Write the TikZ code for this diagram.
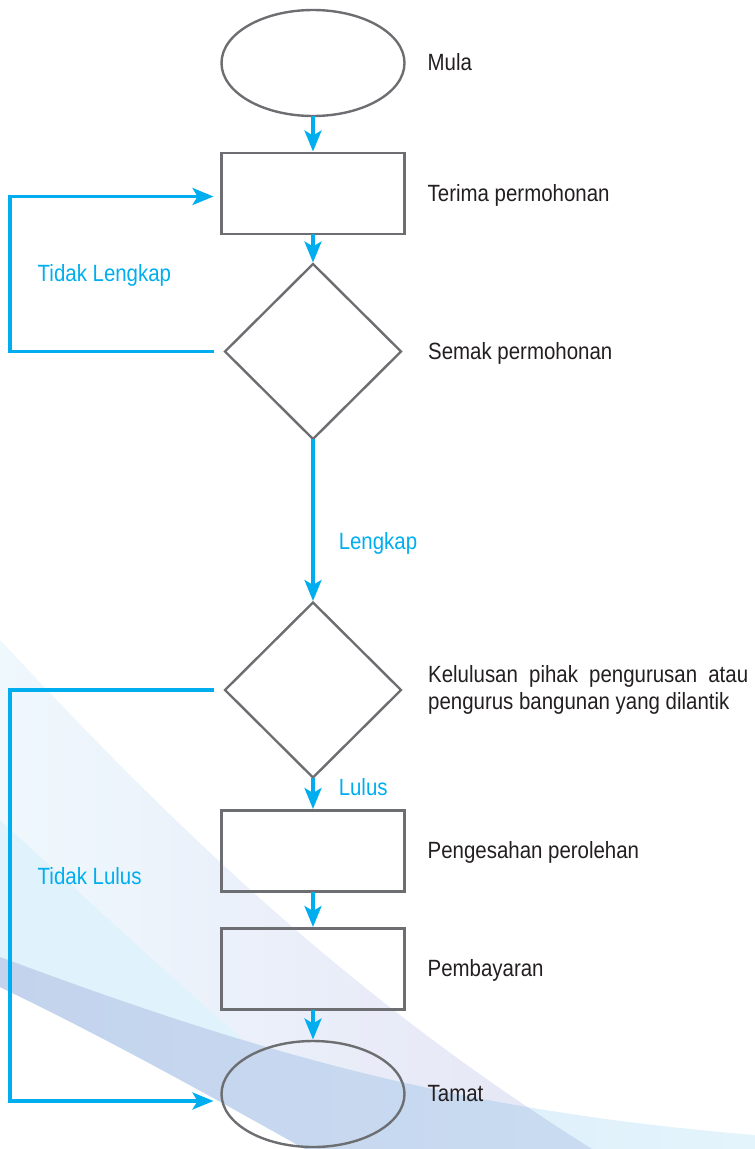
\documentclass[tikz,border=0pt]{standalone}
\usepackage{fontspec}
\setmainfont{Liberation Sans}[FakeStretch=0.87]
\usepackage{xcolor}
\definecolor{flowCyan}{RGB}{0,174,239}
\definecolor{flowGrey}{RGB}{109,110,113}
\definecolor{flowInk}{RGB}{35,31,32}
\definecolor{swPale}{RGB}{239,248,253}
\definecolor{swLav}{RGB}{229,229,245}
\definecolor{swCyan}{RGB}{224,242,251}
\definecolor{swSky}{RGB}{212,232,249}
\definecolor{swSkyEnd}{RGB}{228,244,252}
\definecolor{swBlue}{RGB}{195,211,237}
\definecolor{swBlueEnd}{RGB}{203,222,242}
\usetikzlibrary{positioning,arrows.meta,shapes.geometric}

\newcommand\lblfont{\fontsize{23.5pt}{26.7pt}\selectfont}
% swoosh outlines, pixel grid with y pointing down
\def\swoopR{(0,640) .. controls (150,800) and (330,985) .. (592,1149) -- (305,1149) .. controls (200,1090) and (100,1035) .. (0,987) -- cycle}
\def\swoopB{(0,820) .. controls (120,930) and (250,1050) .. (371,1149) -- (0,1149) -- cycle}
\def\swoopD{(0,957) .. controls (250,1050) and (450,1110) .. (755,1135) -- (755,1149) -- (305,1149) .. controls (200,1090) and (100,1035) .. (0,987) -- cycle}

\begin{document}
\begin{tikzpicture}[x=1pt,y=-1pt,node distance=31pt and 23pt,
  blk/.style={draw=flowGrey,line width=2.4pt,inner sep=0pt,outer sep=0pt,
    minimum width=183pt,minimum height=81pt},
  oval/.style={blk,ellipse,minimum height=106pt},
  dec/.style={blk,diamond,minimum width=176pt,minimum height=175pt},
  lb/.style={font=\lblfont,text=flowInk,anchor=west,inner sep=0pt},
  lbl/.style={lb,text height=20pt,text depth=4.2pt},
  cl/.style={lbl,text=flowCyan},
  a/.style={-{Stealth[length=21pt,width=17pt,inset=5pt]},flowCyan,line width=3.5pt,shorten >=1.5pt},
  back/.style={a,shorten <=11pt,shorten >=8pt}]
  \useasboundingbox (0,0) rectangle (755,1149);

  % background swoosh
  \shade[left color=swPale,right color=swLav] \swoopR;
  \shade[left color=swSky,right color=swSkyEnd] \swoopD;
  \begin{scope}
    \clip \swoopR;
    \fill[swCyan] \swoopB;
    \shade[left color=swBlue,right color=swBlueEnd] \swoopD;
  \end{scope}

  % flow
  \node[oval] (mula) at (313,63) {};
  \node[blk,below=37pt of mula] (terima) {};
  \node[dec,below=30pt of terima] (semak) {};
  \node[dec,below=163.5pt of semak] (kelulusan) {};
  \node[blk,below=33pt of kelulusan] (pengesahan) {};
  \node[blk,below=37pt of pengesahan] (bayaran) {};
  \node[oval,below=31.5pt of bayaran] (tamat) {};

  \node[lbl,right=of mula] (tMula) {Mula};
  \node[lbl,right=of terima] (tTerima) {Terima permohonan};
  \node[lbl,right=27pt of semak] (tSemak) {Semak permohonan};
  \node[lb,right=27pt of kelulusan,align=left] (tKelulusan)
    {\makebox[320pt][s]{Kelulusan pihak pengurusan atau}\\pengurus bangunan yang dilantik};
  \node[lbl,right=of pengesahan] (tPengesahan) {Pengesahan perolehan};
  \node[lbl,right=of bayaran] (tBayaran) {Pembayaran};
  \node[lbl,right=of tamat] (tTamat) {Tamat};

  \draw[a] (mula) -- (terima);
  \draw[a] (terima) -- (semak);
  \draw[a] (semak) -- node[cl,pos=.63,xshift=24pt] (tLengkap) {Lengkap} (kelulusan);
  \draw[a] (kelulusan) -- node[cl,pos=.32,xshift=24pt] (tLulus) {Lulus} (pengesahan);
  \draw[a] (pengesahan) -- (bayaran);
  \draw[a] (bayaran) -- (tamat);

  % return paths on the left rail
  \coordinate (rail) at (10,0);
  \coordinate (terimaIn) at ([yshift=-3pt]terima.west);
  \coordinate (tamatIn) at ([yshift=-7pt]tamat.west);
  \draw[back] (semak.west) -| node[cl,pos=.75,xshift=26pt] (tTidakLengkap) {Tidak Lengkap}
    (rail |- terimaIn) -- (terimaIn);
  \draw[back] (kelulusan.west) -| node[cl,pos=.727,xshift=26pt] (tTidakLulus) {Tidak Lulus}
    (rail |- tamatIn) -- (tamatIn);
\end{tikzpicture}
\end{document}
